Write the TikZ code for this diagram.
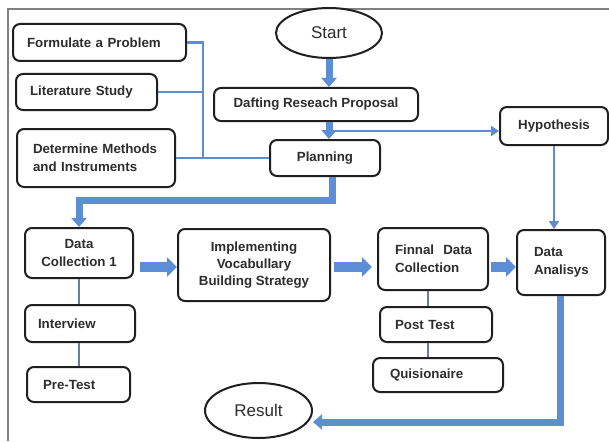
\documentclass[tikz,border=0pt]{standalone}
\usepackage{fontspec}
\setmainfont{Liberation Sans}
\usetikzlibrary{arrows.meta,shapes.geometric,calc}
\definecolor{bigblue}{RGB}{92,142,215}
\definecolor{thinblue}{RGB}{96,140,204}
\definecolor{greyblue}{RGB}{100,125,160}
\definecolor{txt}{RGB}{45,45,45}
\begin{document}
\begin{tikzpicture}[x=1pt,y=-1pt,
  box/.style={draw=black!88, line width=2pt, rounded corners=7pt, fill=white,
    font=\fontsize{13.3}{18}\selectfont\bfseries, text=txt, inner ysep=0pt},
  cbox/.style={box, align=center, inner xsep=2pt},
  lbox/.style={box, align=left},
  oval/.style={ellipse, draw=black!88, line width=2pt, fill=white,
    font=\fontsize{17}{20}\selectfont, text=txt, inner sep=0pt},
  thinline/.style={draw=thinblue, line width=2.4pt},
  greyline/.style={draw=greyblue, line width=2.6pt},
  thinarrow/.style={thinline, -{Triangle[length=8pt,width=10pt]}},
  bigline/.style={draw=bigblue, line width=7pt},
  bigarrow/.style={bigline, -{Triangle[length=9pt,width=15pt]}},
  fatarrow/.style={draw=bigblue, line width=10pt, -{Triangle[length=10pt,width=19pt]}}
]
\useasboundingbox (0,0) rectangle (609,441);
\fill[white] (0,0) rectangle (609,441);
\draw[gray, line width=1.4pt] (8,441) -- (8,9) -- (609,9);

% top left group
\node[lbox, text width=145pt, inner xsep=14pt, minimum height=37pt] (form) at (99.5,42.5) {\mbox{Formulate a Problem}};
\node[lbox, text width=113pt, inner xsep=14pt, minimum height=36pt] (lit) at (86.5,92) {\mbox{Literature Study}};
\node[lbox, text width=126pt, inner xsep=16pt, minimum height=58pt] (det) at (96,158) {\mbox{Determine Methods}\\\mbox{and Instruments}};

% centre column
\node[oval, minimum width=106pt, minimum height=50pt] (start) at (329,33) {Start};
\node[cbox, minimum width=204pt, minimum height=33pt] (draft) at (316,104.5) {Dafting Reseach Proposal};
\node[cbox, minimum width=110pt, minimum height=36pt] (plan) at (325,158) {Planning};
\node[cbox, minimum width=108pt, minimum height=38pt] (hyp) at (554,126) {Hypothesis};

% bottom row
\node[cbox, minimum width=108pt, minimum height=50pt] (dc1) at (79,253) {Data\\Collection 1};
\node[cbox, minimum width=152pt, minimum height=72pt, font=\fontsize{13.3}{17}\selectfont\bfseries] (impl) at (254,265) {Implementing\\Vocabullary\\Building Strategy};
\node[lbox, text width=76pt, inner xsep=17pt, minimum height=62pt] (fin) at (433,259) {\mbox{Finnal\hspace{0.35em} Data}\\\mbox{Collection}};
\node[lbox, text width=54pt, inner xsep=17pt, minimum height=65pt] (da) at (561,262.5) {Data\\Analisys};

\node[lbox, text width=84pt, inner xsep=13pt, minimum height=37pt] (int) at (80,323.5) {Interview};
\node[lbox, text width=71pt, inner xsep=16pt, minimum height=35pt] (pre) at (78.5,384.5) {Pre-Test};
\node[lbox, text width=82pt, inner xsep=15pt, minimum height=35pt] (post) at (436,324.5) {Post Test};
\node[lbox, text width=96pt, inner xsep=17pt, minimum height=34pt] (quis) at (438,375) {Quisionaire};
\node[oval, minimum width=107pt, minimum height=55pt] (result) at (258.5,410.5) {Result};

% thin connectors of the left group
\coordinate (join) at (203,158);
\draw[thinline] (form.east) -| (join);
\draw[thinline] (lit.east) -- (lit.east -| join);
\draw[thinline] (det.east) -- (plan.west);

% start -> draft -> planning
\draw[bigarrow] (start.south) -- (start.south |- draft.north);
\draw[bigarrow] (start.south |- draft.south) -- (start.south |- plan.north);

% draft -> hypothesis
\coordinate (br) at (333,131);
\draw[thinarrow] (br) -- (br -| hyp.west);

% hypothesis -> data analysis
\draw[thinarrow] (hyp.south) -- (hyp.south |- da.north);

% planning -> data collection 1
\coordinate (pb) at (332,200);
\draw[bigline] (pb |- plan.south) -- (pb) -- (pb -| dc1.north) -- ++(0,14);
\draw[bigarrow] ($(pb -| dc1.north)+(0,6)$) -- (dc1.north);

% bottom row block arrows
\coordinate (row) at (0,267);
\draw[fatarrow, shorten <=6pt] (row -| dc1.east) -- (row -| impl.west);
\draw[fatarrow, shorten <=3pt, shorten >=5pt] (row -| impl.east) -- (row -| fin.west);
\draw[fatarrow, shorten <=2pt] (row -| fin.east) -- (row -| da.west);

% sub-steps
\draw[greyline] (dc1.south) -- (int.north -| dc1.south);
\draw[greyline] (int.south -| dc1.south) -- (pre.north -| dc1.south);
\coordinate (fx) at (428,0);
\draw[greyline] (fx |- fin.south) -- (fx |- post.north);
\draw[greyline] (fx |- post.south) -- (fx |- quis.north);

% data analysis -> result
\coordinate (rc) at (560,422);
\draw[bigline] (da.south -| rc) -- (rc) -- ($(rc -| result.east)+(12,0)$);
\draw[bigarrow] ($(rc -| result.east)+(14,0)$) -- (rc -| result.east);
\end{tikzpicture}
\end{document}
